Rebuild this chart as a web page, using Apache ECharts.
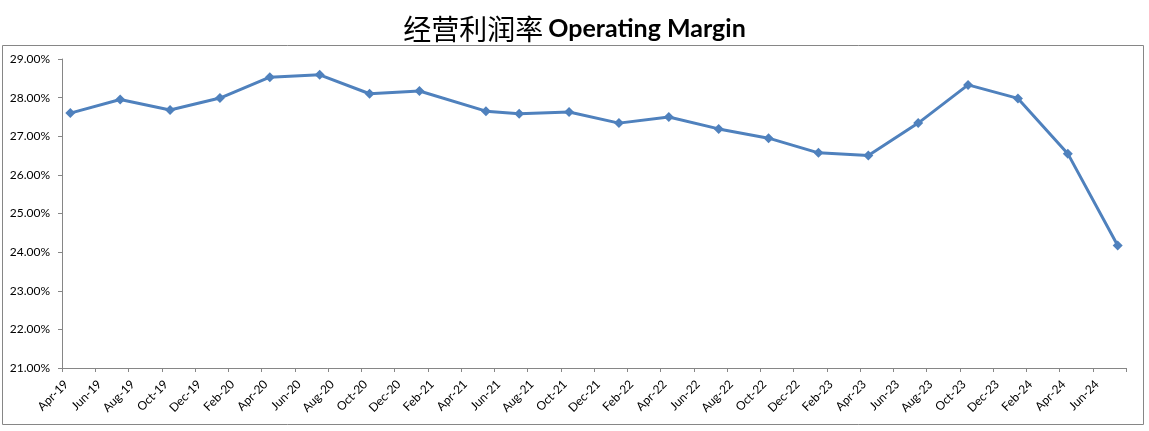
<!DOCTYPE html>
<html>
<head>
<meta charset="utf-8">
<script src="https://cdn.jsdelivr.net/npm/echarts@6/dist/echarts.min.js"></script>
<style>html,body{margin:0;padding:0;background:#fff}#c{width:1149px;height:431px}</style>
</head>
<body>
<div id="c"></div>
<script>
const tickLabels = ['Apr-19','Jun-19','Aug-19','Oct-19','Dec-19','Feb-20','Apr-20','Jun-20','Aug-20','Oct-20','Dec-20','Feb-21','Apr-21','Jun-21','Aug-21','Oct-21','Dec-21','Feb-22','Apr-22','Jun-22','Aug-22','Oct-22','Dec-22','Feb-23','Apr-23','Jun-23','Aug-23','Oct-23','Dec-23','Feb-24','Apr-24','Jun-24'];
const periods = ['2019-04','2019-07','2019-10','2020-01','2020-04','2020-07','2020-10','2021-01','2021-05','2021-07','2021-10','2022-01','2022-04','2022-07','2022-10','2023-01','2023-04','2023-07','2023-10','2024-01','2024-04','2024-07'];
const margins = [27.60,27.95,27.68,27.99,28.53,28.59,28.10,28.17,27.65,27.58,27.63,27.34,27.50,27.19,26.95,26.57,26.50,27.34,28.33,27.98,26.55,24.17];

function monthPos(p){ const [y,m]=p.split('-').map(Number); return (y-2019)*12 + (m-4) + 0.5; }
const seriesData = periods.map((p,i)=>[monthPos(p), margins[i]]);

const chart = echarts.init(document.getElementById('c'), null, {renderer:'canvas'});
chart.setOption({
  animation:false,
  backgroundColor:'#fff',
  title:{
    left:'center', top:10,
    text:'{cn|经营利润率} {en|Operating Margin}',
    textStyle:{
      rich:{
        cn:{fontFamily:'Noto Sans CJK SC', fontSize:28, fontWeight:'normal', color:'#000'},
        en:{fontFamily:'Lato', fontSize:25, fontWeight:'bold', color:'#000'}
      }
    }
  },
  graphic:[{type:'rect', shape:{x:2.5,y:45.5,width:1141,height:379}, style:{fill:'none', stroke:'#868686', lineWidth:1}, silent:true, z:-1}],
  grid:{left:62, right:23, top:59, bottom:63, containLabel:false},
  xAxis:{
    type:'value', min:0, max:64, interval:2,
    axisLine:{show:true, lineStyle:{color:'#868686', width:1}},
    axisTick:{show:true, length:4, lineStyle:{color:'#868686'}},
    splitLine:{show:false},
    axisLabel:{rotate:45, margin:10, verticalAlign:'top', fontFamily:'Lato', fontSize:12, color:'#000',
      formatter:function(v){ return tickLabels[Math.round(v/2)] || ''; }}
  },
  yAxis:{
    type:'value', min:21, max:29, interval:1,
    axisLine:{show:true, lineStyle:{color:'#868686', width:1}},
    axisTick:{show:true, length:4, lineStyle:{color:'#868686'}},
    splitLine:{show:false},
    axisLabel:{margin:12, fontFamily:'Lato', fontSize:12, color:'#000',
      formatter:function(v){ return v.toFixed(2)+'%'; }}
  },
  series:[{
    type:'line', data:seriesData,
    symbol:'diamond', symbolSize:10,
    lineStyle:{color:'#4F81BD', width:3},
    itemStyle:{color:'#4F81BD'}
  }]
});
</script>
</body>
</html>
